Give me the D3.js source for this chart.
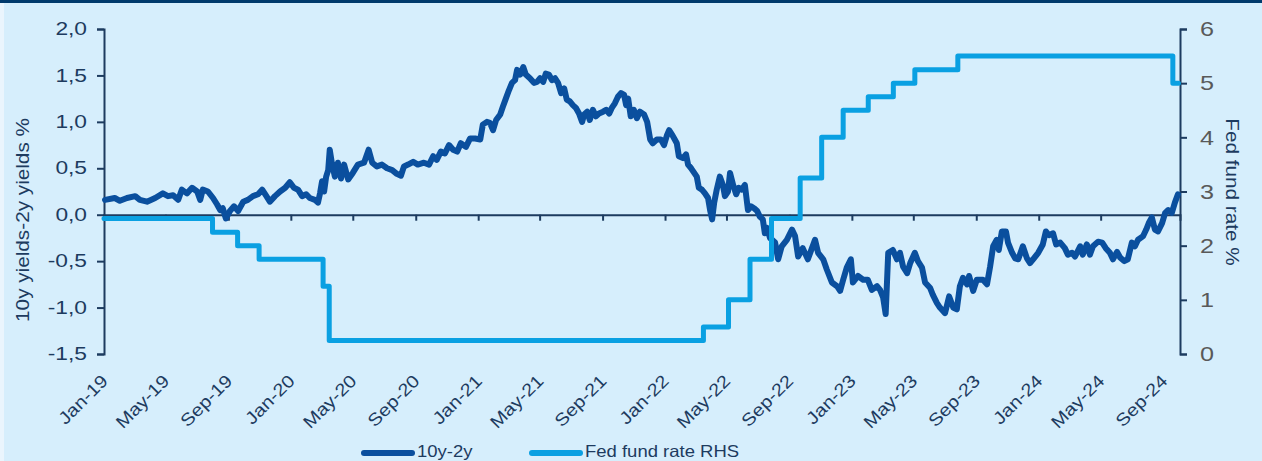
<!DOCTYPE html>
<html lang="en">
<head>
<meta charset="UTF-8">
<title>10y-2y spread vs Fed fund rate</title>
<script src="https://d3js.org/d3.v7.min.js"></script>
<style>
  html, body { margin: 0; padding: 0; background: #eaf5fd; }
  svg { display: block; font-family: "Liberation Sans", Arial, sans-serif; }
</style>
</head>
<body>
<svg width="1262" height="461"></svg>
<script>
// 10y-2y spread (%)
const spreadDates = [
  "2019-01-03","2019-01-22","2019-02-01","2019-02-15","2019-03-03","2019-03-12","2019-03-26","2019-04-11",
  "2019-04-26","2019-05-06","2019-05-16","2019-05-26","2019-06-02","2019-06-12","2019-06-22","2019-07-02",
  "2019-07-08","2019-07-13","2019-07-23","2019-08-02","2019-08-10","2019-08-16","2019-08-21","2019-08-27",
  "2019-09-04","2019-09-12","2019-09-20","2019-09-30","2019-10-09","2019-10-19","2019-10-29","2019-11-06",
  "2019-11-13","2019-11-21","2019-12-01","2019-12-11","2019-12-21","2019-12-30","2020-01-07","2020-01-15",
  "2020-01-23","2020-01-31","2020-02-07","2020-02-17","2020-02-23","2020-02-27","2020-03-02","2020-03-06",
  "2020-03-10","2020-03-14","2020-03-17","2020-03-21","2020-03-27","2020-04-02","2020-04-08","2020-04-14",
  "2020-04-22","2020-05-01","2020-05-11","2020-05-23","2020-06-01","2020-06-08","2020-06-17","2020-06-27",
  "2020-07-07","2020-07-17","2020-07-26","2020-08-03","2020-08-09","2020-08-17","2020-08-27","2020-09-05",
  "2020-09-17","2020-09-27","2020-10-05","2020-10-12","2020-10-20","2020-10-28","2020-11-05","2020-11-13",
  "2020-11-21","2020-11-28","2020-12-08","2020-12-16","2020-12-26","2021-01-05","2021-01-10","2021-01-18",
  "2021-01-24","2021-01-30","2021-02-05","2021-02-13","2021-02-18","2021-02-24","2021-03-02","2021-03-08",
  "2021-03-14","2021-03-18","2021-03-24","2021-03-30","2021-04-04","2021-04-12","2021-04-20","2021-04-26",
  "2021-05-02","2021-05-08","2021-05-13","2021-05-19","2021-05-25","2021-05-31","2021-06-06","2021-06-12",
  "2021-06-18","2021-06-23","2021-06-29","2021-07-05","2021-07-11","2021-07-17","2021-07-23","2021-07-27",
  "2021-08-02","2021-08-07","2021-08-13","2021-08-19","2021-08-25","2021-09-02","2021-09-08","2021-09-14",
  "2021-09-19","2021-09-25","2021-10-01","2021-10-07","2021-10-13","2021-10-17","2021-10-21","2021-10-26",
  "2021-11-01","2021-11-07","2021-11-13","2021-11-21","2021-11-27","2021-12-03","2021-12-08","2021-12-16",
  "2021-12-24","2021-12-30","2022-01-05","2022-01-09","2022-01-15","2022-01-20","2022-01-24","2022-01-28",
  "2022-02-05","2022-02-11","2022-02-15","2022-02-21","2022-02-27","2022-03-04","2022-03-08","2022-03-14",
  "2022-03-20","2022-03-26","2022-03-30","2022-04-03","2022-04-07","2022-04-12","2022-04-18","2022-04-24",
  "2022-04-28","2022-05-04","2022-05-08","2022-05-14","2022-05-20","2022-05-25","2022-05-31","2022-06-06",
  "2022-06-12","2022-06-18","2022-06-24","2022-06-30","2022-07-05","2022-07-11","2022-07-15","2022-07-19",
  "2022-07-25","2022-07-29","2022-08-04","2022-08-10","2022-08-17","2022-08-27","2022-09-06","2022-09-12",
  "2022-09-18","2022-09-27","2022-10-07","2022-10-21","2022-10-27","2022-11-06","2022-11-13","2022-11-23",
  "2022-12-03","2022-12-09","2022-12-15","2022-12-22","2022-12-30","2023-01-03","2023-01-13","2023-01-23",
  "2023-02-01","2023-02-09","2023-02-19","2023-02-25","2023-03-03","2023-03-08","2023-03-13","2023-03-22",
  "2023-03-30","2023-04-05","2023-04-11","2023-04-19","2023-04-25","2023-05-04","2023-05-10","2023-05-18",
  "2023-05-24","2023-06-03","2023-06-08","2023-06-16","2023-06-22","2023-07-02","2023-07-10","2023-07-18",
  "2023-07-25","2023-07-31","2023-08-06","2023-08-14","2023-08-18","2023-08-26","2023-09-02","2023-09-14",
  "2023-09-22","2023-09-28","2023-10-04","2023-10-11","2023-10-15","2023-10-21","2023-10-29","2023-11-02",
  "2023-11-10","2023-11-16","2023-11-22","2023-12-01","2023-12-09","2023-12-15","2023-12-21","2023-12-31",
  "2024-01-09","2024-01-15","2024-01-21","2024-01-29","2024-02-04","2024-02-12","2024-02-21","2024-02-27",
  "2024-03-06","2024-03-12","2024-03-22","2024-03-27","2024-04-04","2024-04-10","2024-04-16","2024-04-26",
  "2024-05-04","2024-05-11","2024-05-19","2024-05-25","2024-06-02","2024-06-08","2024-06-16","2024-06-23",
  "2024-07-01","2024-07-07","2024-07-13","2024-07-23","2024-07-29","2024-08-03","2024-08-09","2024-08-15",
  "2024-08-21","2024-08-29","2024-09-04","2024-09-10","2024-09-17","2024-09-23","2024-09-29"
];
const spreadValues = [
  0.16,0.18,0.15,0.18,0.20,0.16,0.14,0.18,
  0.23,0.20,0.21,0.16,0.27,0.23,0.29,0.25,
  0.16,0.27,0.25,0.18,0.11,0.05,0.07,-0.04,
  0.04,0.09,0.04,0.14,0.16,0.20,0.22,0.27,
  0.21,0.14,0.20,0.25,0.29,0.35,0.29,0.27,
  0.20,0.22,0.18,0.16,0.13,0.23,0.36,0.25,
  0.41,0.48,0.70,0.56,0.41,0.56,0.39,0.54,
  0.38,0.45,0.54,0.56,0.70,0.56,0.52,0.54,
  0.50,0.48,0.44,0.42,0.52,0.54,0.57,0.54,
  0.56,0.54,0.63,0.59,0.68,0.66,0.75,0.70,
  0.68,0.77,0.73,0.82,0.82,0.81,0.97,1.00,
  0.99,0.91,1.02,1.08,1.16,1.25,1.34,1.42,
  1.45,1.56,1.51,1.59,1.51,1.47,1.42,1.43,
  1.47,1.43,1.52,1.51,1.45,1.47,1.42,1.31,
  1.36,1.24,1.22,1.18,1.15,1.09,1.00,1.08,
  1.11,1.02,1.13,1.06,1.09,1.11,1.13,1.09,
  1.15,1.20,1.27,1.31,1.29,1.18,1.25,1.06,
  1.13,1.04,1.11,1.08,1.00,0.81,0.77,0.81,
  0.81,0.75,0.86,0.91,0.86,0.81,0.77,0.63,
  0.61,0.65,0.54,0.50,0.45,0.41,0.29,0.27,
  0.23,0.18,0.05,-0.05,0.13,0.27,0.41,0.32,
  0.20,0.25,0.45,0.32,0.22,0.29,0.27,0.32,
  0.05,0.09,0.07,0.04,-0.02,-0.05,-0.20,-0.14,
  -0.25,-0.27,-0.30,-0.48,-0.34,-0.27,-0.16,-0.23,
  -0.45,-0.36,-0.48,-0.27,-0.41,-0.48,-0.59,-0.73,
  -0.77,-0.82,-0.70,-0.57,-0.48,-0.73,-0.66,-0.70,
  -0.70,-0.81,-0.77,-0.81,-0.89,-1.07,-0.41,-0.38,
  -0.48,-0.41,-0.56,-0.63,-0.52,-0.41,-0.50,-0.57,
  -0.73,-0.79,-0.86,-0.95,-1.00,-1.06,-0.88,-1.00,
  -1.02,-0.77,-0.68,-0.75,-0.66,-0.82,-0.70,-0.70,
  -0.75,-0.56,-0.34,-0.27,-0.38,-0.18,-0.18,-0.30,
  -0.41,-0.47,-0.48,-0.34,-0.47,-0.52,-0.48,-0.41,
  -0.32,-0.18,-0.22,-0.20,-0.32,-0.30,-0.36,-0.43,
  -0.41,-0.45,-0.34,-0.43,-0.32,-0.43,-0.34,-0.29,
  -0.30,-0.36,-0.41,-0.48,-0.40,-0.46,-0.50,-0.48,
  -0.30,-0.34,-0.27,-0.23,-0.16,-0.09,-0.03,-0.16,
  -0.18,-0.09,0.02,0.05,0.02,0.13,0.22
];

// Fed fund rate (upper bound, %), step changes
const fedDates = [
  "2019-01-01","2019-08-01","2019-09-19","2019-10-31","2020-03-04","2020-03-16",
  "2022-03-17","2022-05-05","2022-06-16","2022-07-28","2022-09-22","2022-11-03",
  "2022-12-15","2023-02-02","2023-03-23","2023-05-04","2023-07-27","2024-09-19","2024-09-30"
];
const fedRates = [2.5, 2.25, 2.0, 1.75, 1.25, 0.25, 0.5, 1.0, 1.75, 2.5, 3.25, 4.0, 4.5, 4.75, 5.0, 5.25, 5.5, 5.0, 5.0];

const leftTicks = [-1.5, -1.0, -0.5, 0, 0.5, 1.0, 1.5, 2.0];
const rightTicks = [0, 1, 2, 3, 4, 5, 6];
const xTickDates = [
  "2019-01-01","2019-05-01","2019-09-01","2020-01-01","2020-05-01","2020-09-01",
  "2021-01-01","2021-05-01","2021-09-01","2022-01-01","2022-05-01","2022-09-01",
  "2023-01-01","2023-05-01","2023-09-01","2024-01-01","2024-05-01","2024-09-01"
];
const seriesNames = ["10y-2y", "Fed fund rate RHS"];

const parse = d3.timeParse("%Y-%m-%d");
const navy = "#1d3b5f";
const darkBlue = "#0a4f9e";
const lightBlue = "#0aa0e2";

const svg = d3.select("svg");

// the source chart's lettering is wider than Arial, so widen the glyphs a bit
function widen(sel, k) {
  sel.each(function () {
    const len = this.getComputedTextLength();
    d3.select(this).attr("textLength", len * k).attr("lengthAdjust", "spacingAndGlyphs");
  });
}

// background
svg.append("rect").attr("x", 4).attr("y", 0).attr("width", 1258).attr("height", 461).attr("fill", "#d6eefc");
svg.append("rect").attr("x", 0).attr("y", 0).attr("width", 1262).attr("height", 3).attr("fill", "#003a6c");

const x = d3.scaleTime()
  .domain([parse("2019-01-01"), parse("2024-10-03")])
  .range([104, 1180]);
const yL = d3.scaleLinear().domain([-1.5, 2]).range([354, 29]);
const yR = d3.scaleLinear().domain([0, 6]).range([354, 29]);

const spread = spreadDates.map((d, i) => ({ date: parse(d), v: spreadValues[i] }));
const fed = fedDates.map((d, i) => ({ date: parse(d), v: fedRates[i] }));

// left axis
const gl = svg.append("g")
  .attr("transform", "translate(104,0)")
  .call(d3.axisLeft(yL).tickValues(leftTicks).tickSize(7).tickPadding(10)
    .tickFormat(d => d3.format(".1f")(d).replace(".", ",").replace("−", "-")));
gl.select(".domain").attr("stroke", navy).attr("stroke-width", 2);
gl.selectAll(".tick line").attr("stroke", navy).attr("stroke-width", 2);
gl.selectAll(".tick text").attr("fill", navy).attr("font-size", 17.5).call(widen, 1.3);

// right axis
const gr = svg.append("g")
  .attr("transform", "translate(1180,0)")
  .call(d3.axisRight(yR).tickValues(rightTicks).tickSize(7).tickPadding(13).tickFormat(d3.format("d")));
gr.select(".domain").attr("stroke", navy).attr("stroke-width", 2);
gr.selectAll(".tick line").attr("stroke", navy).attr("stroke-width", 2);
gr.selectAll(".tick text").attr("fill", "#595959").attr("font-size", 21).call(widen, 1.2);

// x axis at zero
const gx = svg.append("g")
  .attr("transform", `translate(0,${yL(0)})`)
  .call(d3.axisBottom(x).tickValues(xTickDates.map(parse)).tickSize(6).tickFormat(""));
gx.select(".domain").attr("stroke", navy).attr("stroke-width", 2);
gx.selectAll(".tick line").attr("stroke", navy).attr("stroke-width", 2);

// rotated date labels at the bottom
const fmt = d3.timeFormat("%b-%y");
svg.append("g").selectAll("text")
  .data(xTickDates.map(parse))
  .join("text")
  .attr("transform", d => `translate(${x(d) + 5},382) rotate(-45)`)
  .attr("text-anchor", "end")
  .attr("fill", navy)
  .attr("font-size", 17.5)
  .text(d => fmt(d))
  .call(widen, 1.15);

// lines
const lineL = d3.line().x(d => x(d.date)).y(d => yL(d.v));
const lineR = d3.line().x(d => x(d.date)).y(d => yR(d.v)).curve(d3.curveStepAfter);

svg.append("path")
  .datum(spread)
  .attr("d", lineL)
  .attr("fill", "none")
  .attr("stroke", darkBlue)
  .attr("stroke-width", 6)
  .attr("stroke-linejoin", "round")
  .attr("stroke-linecap", "round");

svg.append("path")
  .datum(fed)
  .attr("d", lineR)
  .attr("fill", "none")
  .attr("stroke", lightBlue)
  .attr("stroke-width", 5)
  .attr("stroke-linejoin", "round")
  .attr("stroke-linecap", "round");

// axis titles
svg.append("text")
  .attr("transform", "translate(29,220) rotate(-90)")
  .attr("text-anchor", "middle")
  .attr("fill", navy)
  .attr("font-size", 18.5)
  .text("10y yields-2y yields %")
  .call(widen, 1.12);

svg.append("text")
  .attr("transform", "translate(1226,192) rotate(90)")
  .attr("text-anchor", "middle")
  .attr("fill", navy)
  .attr("font-size", 18.5)
  .text("Fed fund rate %")
  .call(widen, 1.12);

// legend
const legend = svg.append("g");
const legendX = [364, 532];
const legendColors = [darkBlue, lightBlue];
seriesNames.forEach((name, i) => {
  legend.append("line")
    .attr("x1", legendX[i]).attr("x2", legendX[i] + 48)
    .attr("y1", 453).attr("y2", 453)
    .attr("stroke", legendColors[i]).attr("stroke-width", 6).attr("stroke-linecap", "round");
  legend.append("text")
    .attr("x", legendX[i] + 53).attr("y", 457)
    .attr("fill", navy)
    .attr("font-size", 16.5)
    .text(name)
    .call(widen, 1.12);
});
</script>
</body>
</html>
